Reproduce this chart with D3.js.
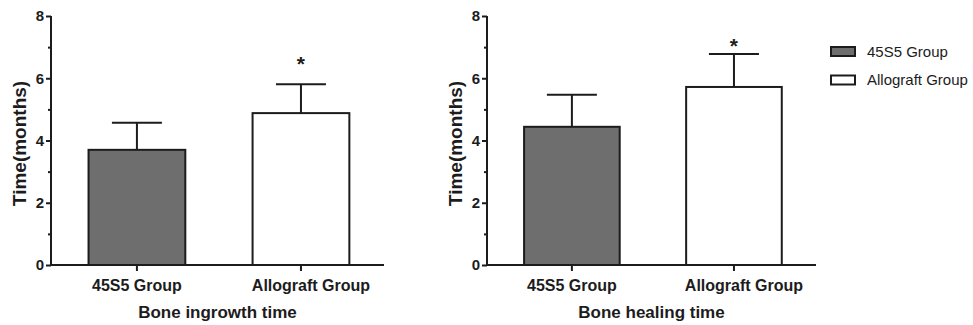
<!DOCTYPE html>
<html>
<head>
<meta charset="utf-8">
<script src="https://cdn.jsdelivr.net/npm/d3@7"></script>
<style>
  body { margin: 0; background: #fff; }
  svg { font-family: "Liberation Sans", Arial, Helvetica, sans-serif; }
</style>
</head>
<body>
<div id="chart"></div>
<script>
// data
const groups = ['45S5 Group', 'Allograft Group'];
const panelTitles = ['Bone ingrowth time', 'Bone healing time'];
const ingrowthMean = [3.70, 4.88];
const ingrowthSD = [0.87, 0.93];
const healingMean = [4.44, 5.72];
const healingSD = [1.03, 1.06];
const starAt = [6.62, 7.2];          // where the "*" sits (months)
const yTicks = [0, 2, 4, 6, 8];
const yMinorTicks = [1, 3, 5, 7];

const ink = '#1c1c1c';
const fills = ['#6e6e6e', '#ffffff'];

const svg = d3.select('#chart')
  .append('svg')
  .attr('width', 973)
  .attr('height', 325);

// y scale shared by both panels
const y = d3.scaleLinear().domain([0, 8]).range([265, 16]);

const panels = [
  { left: 51, width: 333, mean: ingrowthMean, sd: ingrowthSD, star: starAt[0], title: panelTitles[0] },
  { left: 487, width: 329, mean: healingMean, sd: healingSD, star: starAt[1], title: panelTitles[1] }
];

panels.forEach(p => {
  const g = svg.append('g').attr('transform', `translate(${p.left},0)`);

  const x = d3.scaleBand()
    .domain(groups)
    .range([0, p.width])
    .paddingInner(0.41)
    .paddingOuter(0.22)
    .align(0.52);

  // bars
  g.selectAll('.bar')
    .data(groups)
    .join('rect')
    .attr('class', 'bar')
    .attr('x', d => x(d))
    .attr('y', (d, i) => y(p.mean[i]))
    .attr('width', x.bandwidth())
    .attr('height', (d, i) => y(0) - y(p.mean[i]))
    .attr('fill', (d, i) => fills[i])
    .attr('stroke', ink)
    .attr('stroke-width', 2);

  // error bars (upper only)
  const capW = 50;
  const err = g.selectAll('.err')
    .data(groups)
    .join('g')
    .attr('class', 'err')
    .attr('stroke', ink)
    .attr('stroke-width', 2);
  err.append('line')
    .attr('x1', d => x(d) + x.bandwidth() / 2)
    .attr('x2', d => x(d) + x.bandwidth() / 2)
    .attr('y1', (d, i) => y(p.mean[i]))
    .attr('y2', (d, i) => y(p.mean[i] + p.sd[i]));
  err.append('line')
    .attr('x1', d => x(d) + x.bandwidth() / 2 - capW / 2)
    .attr('x2', d => x(d) + x.bandwidth() / 2 + capW / 2)
    .attr('y1', (d, i) => y(p.mean[i] + p.sd[i]))
    .attr('y2', (d, i) => y(p.mean[i] + p.sd[i]));

  // significance star over the allograft bar
  g.append('text')
    .attr('x', x(groups[1]) + x.bandwidth() / 2)
    .attr('y', y(p.star) + 12)
    .attr('text-anchor', 'middle')
    .attr('font-size', 21)
    .attr('font-weight', 'bold')
    .attr('fill', ink)
    .text('*');

  // y axis
  const yAxis = g.append('g')
    .call(d3.axisLeft(y).tickValues(yTicks).tickSize(5).tickPadding(2).tickFormat(d3.format('d')));
  yAxis.append('g')
    .call(d3.axisLeft(y).tickValues(yMinorTicks).tickSize(3).tickFormat(''))
    .select('.domain').remove();
  yAxis.selectAll('path, line').attr('stroke', ink).attr('stroke-width', 2);
  yAxis.select('.domain').attr('d', `M0,${y(8)}V${y(0) + 1}`);
  yAxis.selectAll('text')
    .attr('font-size', 15)
    .attr('font-weight', 'bold')
    .attr('fill', ink)
    .attr('font-family', null);

  // x axis
  const xAxis = g.append('g')
    .attr('transform', `translate(0,${y(0)})`)
    .call(d3.axisBottom(x).tickSize(6).tickPadding(9));
  xAxis.selectAll('path, line').attr('stroke', ink).attr('stroke-width', 2);
  xAxis.select('.domain').attr('d', `M-1,0H${p.width}`);
  xAxis.selectAll('text')
    .attr('font-size', 16)
    .attr('font-weight', 'bold')
    .attr('fill', ink)
    .attr('font-family', null)
    .attr('dx', d => d === groups[1] ? 10 : 0);

  // axis titles
  g.append('text')
    .attr('transform', `translate(-25,${(y(0) + y(8)) / 2 + 3}) rotate(-90)`)
    .attr('text-anchor', 'middle')
    .attr('font-size', 19)
    .attr('font-weight', 'bold')
    .attr('fill', ink)
    .text('Time(months)');

  g.append('text')
    .attr('x', p.width / 2)
    .attr('y', 318)
    .attr('text-anchor', 'middle')
    .attr('font-size', 17)
    .attr('font-weight', 'bold')
    .attr('fill', ink)
    .text(p.title);
});

// legend
const legend = svg.append('g').attr('transform', 'translate(831,47)');
const item = legend.selectAll('.item')
  .data(groups)
  .join('g')
  .attr('class', 'item')
  .attr('transform', (d, i) => `translate(0,${i * 28.5})`);
item.append('rect')
  .attr('width', 24)
  .attr('height', 9)
  .attr('fill', (d, i) => fills[i])
  .attr('stroke', ink)
  .attr('stroke-width', 2);
item.append('text')
  .attr('x', 36)
  .attr('y', 9.5)
  .attr('font-size', 15)
  .attr('fill', ink)
  .text(d => d);
</script>
</body>
</html>
